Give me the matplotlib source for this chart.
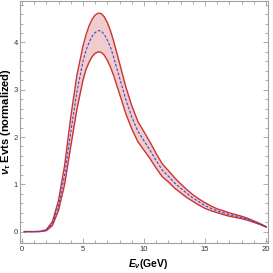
import matplotlib
matplotlib.use("Agg")
import matplotlib.pyplot as plt
from matplotlib.ticker import MultipleLocator

plt.rcParams["font.family"] = ["Liberation Sans", "DejaVu Sans"]
plt.rcParams["mathtext.fontset"] = "custom"
plt.rcParams["mathtext.it"] = "Liberation Sans:bold:italic"
plt.rcParams["mathtext.rm"] = "Liberation Sans:bold"

# neutrino energy (GeV) and normalized event shape, with its error band
energy = [0.2, 1, 1.5, 2, 2.5, 3, 3.5, 4, 4.5, 5, 5.25, 5.5, 5.75, 6, 6.25, 6.5, 6.75, 7,
          7.25, 7.5, 8, 8.5, 9, 9.5, 10, 10.5, 11, 11.5, 12, 12.5, 13, 13.5, 14, 14.5, 15,
          15.5, 16, 16.5, 17, 17.5, 18, 18.5, 19, 19.5, 20]
central = [0, 0, 0.003, 0.03, 0.17, 0.55, 1.2, 2.1, 2.95, 3.6, 3.83, 4.0, 4.13, 4.21, 4.25,
           4.24, 4.17, 4.05, 3.9, 3.7, 3.25, 2.8, 2.42, 2.12, 1.92, 1.72, 1.5, 1.3, 1.17,
           1.03, 0.92, 0.81, 0.71, 0.63, 0.55, 0.49, 0.44, 0.40, 0.36, 0.33, 0.30, 0.26,
           0.21, 0.16, 0.10]
upper = [0, 0, 0.004, 0.04, 0.21, 0.66, 1.4, 2.42, 3.3, 3.92, 4.16, 4.35, 4.49, 4.58, 4.62,
         4.61, 4.54, 4.42, 4.25, 4.04, 3.56, 3.07, 2.66, 2.33, 2.11, 1.89, 1.65, 1.43, 1.29,
         1.14, 1.01, 0.89, 0.78, 0.69, 0.61, 0.54, 0.48, 0.44, 0.395, 0.36, 0.325, 0.28,
         0.225, 0.17, 0.105]
lower = [0, 0, 0.002, 0.02, 0.13, 0.45, 1.0, 1.8, 2.58, 3.2, 3.43, 3.58, 3.7, 3.77, 3.80,
         3.79, 3.73, 3.62, 3.48, 3.31, 2.91, 2.5, 2.17, 1.9, 1.72, 1.54, 1.34, 1.16, 1.05,
         0.92, 0.82, 0.72, 0.64, 0.56, 0.49, 0.44, 0.40, 0.36, 0.325, 0.30, 0.275, 0.24,
         0.195, 0.15, 0.095]

fig = plt.figure(figsize=(2.73, 2.73), dpi=100)
ax = fig.add_axes([0.073, 0.11, 0.909, 0.887])

ax.fill_between(energy, lower, upper, color="#f0cccc", lw=0)
ax.plot(energy, upper, color="#cc3333", lw=1.0, solid_joinstyle="round")
ax.plot(energy, lower, color="#cc3333", lw=1.0, solid_joinstyle="round")
ax.plot(energy, central, color="#4444cc", lw=0.8, ls=(0, (2.5, 1.5)))

ax.set_xlim(-0.16, 20.16)
ax.set_ylim(-0.24, 4.88)
ax.xaxis.set_major_locator(MultipleLocator(5))
ax.xaxis.set_minor_locator(MultipleLocator(1))
ax.yaxis.set_major_locator(MultipleLocator(1))
ax.yaxis.set_minor_locator(MultipleLocator(0.2))

for s in ax.spines.values():
    s.set_color("#a0a0a0")
    s.set_linewidth(0.8)
ax.tick_params(which="both", direction="in", top=True, right=True,
               color="#a0a0a0", width=0.6, labelsize=5.5, labelcolor="#333333", pad=2)
ax.tick_params(axis="y", pad=1.5)
ax.tick_params(which="major", length=3.5)
ax.tick_params(which="minor", length=2)

ax.set_xlabel(r"$E_\nu$(GeV)", fontsize=7.5, fontweight="bold")
ax.set_ylabel(r"$\nu_\tau$ Evts (normalized)", fontsize=8, fontweight="bold")
ax.xaxis.set_label_coords(0.516, -0.06)
ax.yaxis.set_label_coords(-0.029, 0.50)

fig.savefig("out.png", dpi=100)
